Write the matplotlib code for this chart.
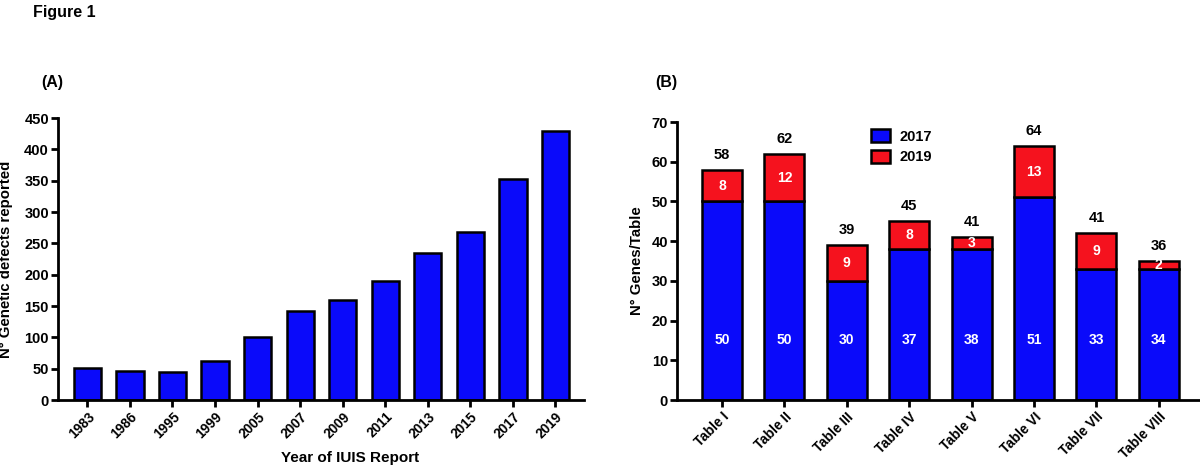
import matplotlib
matplotlib.use("Agg")
import matplotlib.pyplot as plt
from matplotlib.patches import Patch
import numpy as np

plt.rcParams['font.family'] = ['Liberation Sans', 'DejaVu Sans']
plt.rcParams['font.weight'] = 'bold'

# Panel A data
years = ["1983", "1986", "1995", "1999", "2005", "2007", "2009", "2011", "2013", "2015", "2017", "2019"]
defects = [51, 46, 45, 63, 101, 142, 160, 190, 234, 268, 353, 430]

# Panel B data
tables = ["Table I", "Table II", "Table III", "Table IV", "Table V", "Table VI", "Table VII", "Table VIII"]
genes_2017 = [50, 50, 30, 38, 38, 51, 33, 33]
genes_2019 = [8, 12, 9, 7, 3, 13, 9, 2]
label_2017 = [50, 50, 30, 37, 38, 51, 33, 34]
label_2019 = [8, 12, 9, 8, 3, 13, 9, 2]
label_total = [58, 62, 39, 45, 41, 64, 41, 36]

BLUE = "#0A0AFA"
RED = "#F5121E"

fig = plt.figure(figsize=(12, 4.71), dpi=100)
W, H = 1200, 471

def axes_px(l, r, t, b):
    return fig.add_axes([l / W, 1 - b / H, (r - l) / W, (b - t) / H])

def style(ax):
    for s in ["top", "right"]:
        ax.spines[s].set_visible(False)
    for s in ["left", "bottom"]:
        ax.spines[s].set_linewidth(2)
    ax.tick_params(axis="both", width=2, length=5, direction="out")
    ax.tick_params(axis="y", labelsize=10.5, pad=1.5)
    ax.tick_params(axis="x", labelsize=9.8, pad=2)
    for lab in ax.get_yticklabels():
        lab.set_fontweight("bold")

# Panel A
axA = axes_px(58, 584, 118, 400)
xa = np.arange(len(years))
axA.bar(xa, defects, width=0.64, color=BLUE, edgecolor="black", linewidth=1.8)
axA.set_xlim(-0.69, len(years) - 1 + 0.67)
axA.set_ylim(0, 450)
axA.set_yticks(range(0, 451, 50))
axA.set_xticks(xa)
axA.set_xticklabels(years, rotation=45, ha="right", rotation_mode="anchor", fontweight="bold")
style(axA)
axA.set_ylabel("N° Genetic defects reported", fontsize=10.8, fontweight="bold")
axA.yaxis.set_label_coords(-0.085, 0.5)
axA.set_xlabel("Year of IUIS Report", fontsize=11, fontweight="bold")
axA.xaxis.set_label_coords(0.555, -0.18)

# Panel B
axB = axes_px(677, 1200, 122, 400)
xb = np.arange(len(tables))
axB.bar(xb, genes_2017, width=0.64, color=BLUE, edgecolor="black", linewidth=1.8)
axB.bar(xb, genes_2019, width=0.64, bottom=genes_2017, color=RED, edgecolor="black", linewidth=1.8)
axB.set_xlim(-0.72, 7.66)
axB.set_ylim(0, 70)
axB.set_yticks(range(0, 71, 10))
axB.set_xticks(xb)
axB.set_xticklabels(tables, rotation=45, ha="right", rotation_mode="anchor", fontweight="bold")
style(axB)
axB.set_ylabel("N° Genes/Table", fontsize=10.8, fontweight="bold")
axB.yaxis.set_label_coords(-0.063, 0.5)

for i in range(len(tables)):
    top = genes_2017[i] + genes_2019[i]
    axB.text(xb[i], 15, str(label_2017[i]), color="white", ha="center", va="center",
             fontsize=10, fontweight="bold")
    axB.text(xb[i], genes_2017[i] + genes_2019[i] / 2, str(label_2019[i]), color="white",
             ha="center", va="center", fontsize=10, fontweight="bold")
    axB.text(xb[i], top + 2, str(label_total[i]), color="black", ha="center", va="bottom",
             fontsize=10.5, fontweight="bold")

handles = [Patch(facecolor=BLUE, edgecolor="black", linewidth=1.8, label="2017"),
           Patch(facecolor=RED, edgecolor="black", linewidth=1.8, label="2019")]
leg = axB.legend(handles=handles, loc="upper left", bbox_to_anchor=(0.355, 1.005), frameon=False,
                 prop={"weight": "bold", "size": 10.5}, handlelength=1.3,
                 handleheight=1.0, labelspacing=0.4, handletextpad=0.6, borderaxespad=0.2)

fig.text(33 / W, 1 - 12 / H, "Figure 1", fontsize=11.5, fontweight="bold", ha="left", va="center")
fig.text(41 / W, 1 - 83 / H, "(A)", fontsize=11.5, fontweight="bold", ha="left", va="center")
fig.text(655 / W, 1 - 83 / H, "(B)", fontsize=11.5, fontweight="bold", ha="left", va="center")

fig.savefig("out.png", dpi=100)
